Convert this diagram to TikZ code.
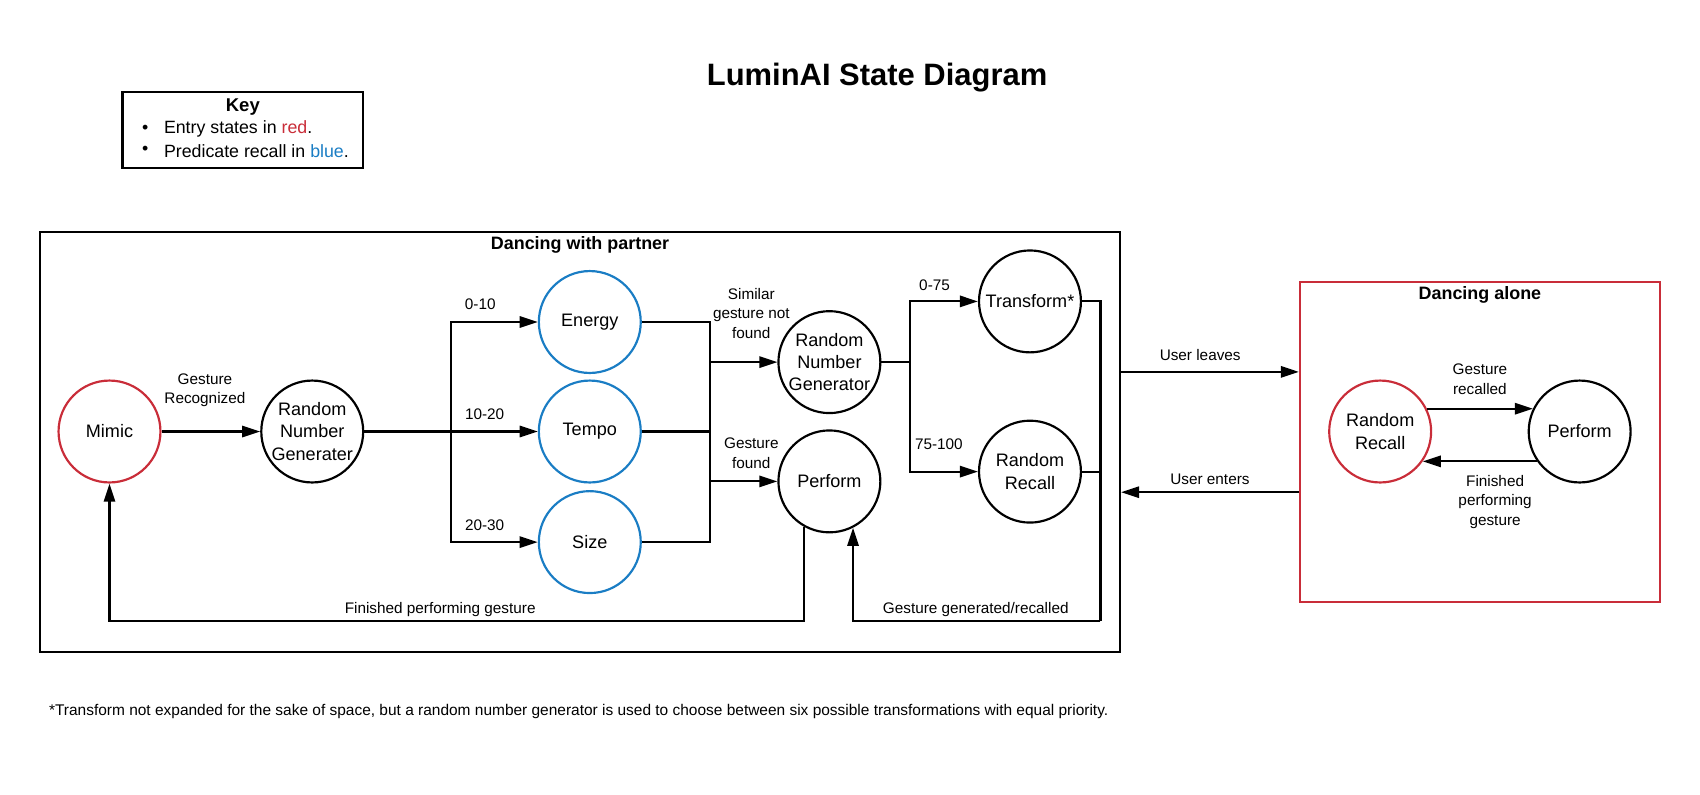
\documentclass[tikz,border=0pt]{standalone}
\usepackage{fontspec}
\setmainfont{Liberation Sans}
\usetikzlibrary{arrows.meta,calc}
\definecolor{lred}{RGB}{201,45,57}
\definecolor{lblue}{RGB}{26,125,196}
\begin{document}
\begin{tikzpicture}[x=0.75pt,y=-0.75pt,
  state/.style={circle,draw,line width=1.5pt,minimum size=70.5pt,inner sep=0pt,align=center,font=\fontsize{12.5}{15.5}\selectfont},
  redst/.style={state,draw=lred},
  bluest/.style={state,draw=lblue},
  conn/.style={line width=1.5pt,-{Triangle[length=12.5pt,width=7.8pt]}},
  plainline/.style={line width=1.5pt},
  lbl/.style={font=\fontsize{10.6}{13.5}\selectfont,align=center,inner sep=0pt},
  frame/.style={draw,line width=1.5pt,inner sep=0pt},
  boxtitle/.style={font=\bfseries\fontsize{12.4}{14}\selectfont,inner sep=0pt},
  keytext/.style={font=\fontsize{12.3}{15}\selectfont,inner sep=0pt,anchor=west}
]
\useasboundingbox (0,0) rectangle (1568,733);

% title
\node[font=\bfseries\fontsize{21.4}{24}\selectfont,inner sep=0pt] (title) at (809,72) {LuminAI State Diagram};

% key
\node[frame,minimum width=166.5pt,minimum height=52.5pt] (key) at (224,120) {};
\node[boxtitle,font=\bfseries\fontsize{12.8}{14}\selectfont] (keyt) at (224,99) {Key};
\node[keytext,anchor=center] (kb1) at (134,119) {•};
\node[keytext] (k1) at (151,119) {Entry states in \textcolor{lred}{red}.};
\node[keytext,anchor=center] (kb2) at (134,139) {•};
\node[keytext] (k2) at (151,139) {Predicate recall in \textcolor{lblue}{blue}.};

% frames
\node[frame,minimum width=747pt,minimum height=290.25pt] (partner) at (535,407.5) {};
\node[boxtitle] (ptitle) at (535,226) {Dancing with partner};
\node[frame,draw=lred,minimum width=249pt,minimum height=221.25pt] (alone) at (1365,407.5) {};
\node[boxtitle] (atitle) at (1365,272) {Dancing alone};

% states
\node[redst] (mimic) at (101,398) {Mimic};
\node[state] (rng1) at (288,398) {Random\\Number\\Generater};
\node[bluest] (energy) at (544,297) {Energy};
\node[bluest] (tempo) at (544,398) {Tempo};
\node[bluest] (size) at (544,500) {Size};
\node[state] (rng2) at (765,334) {Random\\Number\\Generator};
\node[state] (perf) at (765,444) {Perform};
\node[state] (trans) at (950,278) {Transform*};
\node[state] (rrec) at (950,435) {Random\\Recall};
\node[redst] (rrec2) at (1273,398) {Random\\Recall};
\node[state] (perf2) at (1457,398) {Perform};

% helper coordinates
\coordinate (bx) at (416,398);
\coordinate (mtop) at (655,297);
\coordinate (mbot) at (655,500);
\coordinate (sx) at (839,334);
\coordinate (rx) at (1015,573);
\coordinate (fy) at (0,573);
\coordinate (ul) at (0,343);
\coordinate (ue) at (0,454);

% Mimic -> RNG1
\draw[conn] (mimic) -- (rng1);
\node[lbl] (l1) at (189,360) {Gesture\\Recognized};

% RNG1 branches
\draw[plainline,line width=2.4pt] (rng1.east) -- (bx);
\draw[conn] (rng1.east) -- (bx) |- (energy.west);
\draw[conn] (rng1.east) -- (tempo.west);
\draw[conn] (rng1.east) -- (bx) |- (size.west);
\node[lbl] (l2) at (443,281) {0-10};
\node[lbl] (l3) at (447,382) {10-20};
\node[lbl] (l4) at (447,484) {20-30};

% merge
\draw[plainline] (energy.east) -- (mtop) -- (mbot) -- (size.east);
\draw[plainline] (tempo.east) -- (tempo.east -| mtop);
\draw[conn] (mtop |- rng2.west) -- (rng2.west);
\draw[conn] (mtop |- perf.west) -- (perf.west);
\node[lbl] (l5) at (693,289) {Similar\\gesture not\\found};
\node[lbl] (l6) at (693,418) {Gesture\\found};

% RNG2 branches
\draw[plainline] (rng2.east) -- (sx);
\draw[conn] (sx) |- (trans.west);
\draw[conn] (sx) |- (rrec.west);
\node[lbl] (l7) at (862,263) {0-75};
\node[lbl] (l8) at (866,410) {75-100};

% return to perform
\draw[plainline] (trans.east) -| (rx);
\draw[plainline] (rrec.east) -- (rrec.east -| rx);
\draw[conn] (rx) -| (perf.-63);
\node[lbl] (l9) at (900,562) {Gesture generated/recalled};

% perform -> mimic
\draw[conn] (perf.-119) -- (perf.-119 |- fy) -| (mimic.south);
\node[lbl] (l10) at (406,562) {Finished performing gesture};

% between frames
\draw[conn] (partner.east |- ul) -- (alone.west |- ul);
\node[lbl] (l11) at (1107,327) {User leaves};
\draw[conn] (alone.west |- ue) -- (partner.east |- ue);
\node[lbl] (l12) at (1116,442) {User enters};

% dancing alone
\draw[conn] (rrec2.26) -- (perf2.154);
\node[lbl] (l13) at (1365,350) {Gesture\\recalled};
\draw[conn] (perf2.-145) -- (rrec2.-35);
\node[lbl] (l14) at (1379,463) {Finished\\performing\\gesture};

% footnote
\node[font=\fontsize{10.7}{12}\selectfont,inner sep=0pt,anchor=west] (foot) at (45,656) {*Transform not expanded for the sake of space, but a random number generator is used to choose between six possible transformations with equal priority.};
\end{tikzpicture}
\end{document}
